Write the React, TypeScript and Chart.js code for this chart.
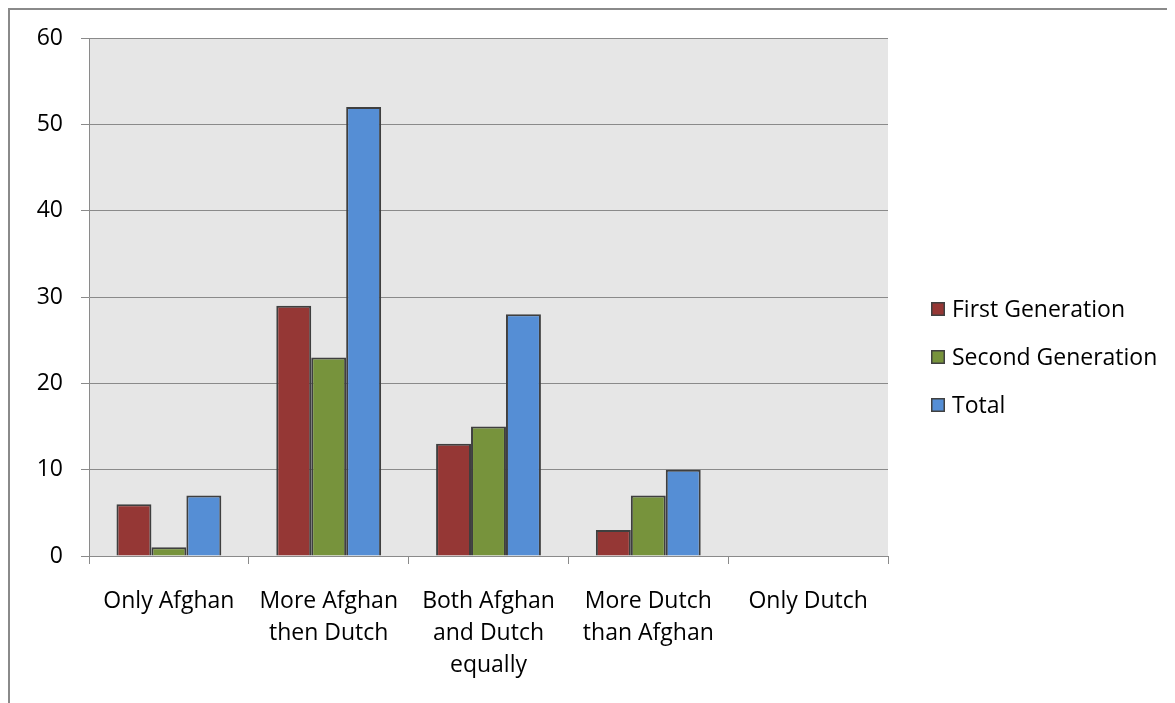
import React, { useEffect, useRef } from "react";
import { Chart, registerables } from "chart.js";

Chart.register(...registerables);

const categories: (string | string[])[] = [
  "Only Afghan",
  ["More Afghan", "then Dutch"],
  ["Both Afghan", "and Dutch", "equally"],
  ["More Dutch", "than Afghan"],
  "Only Dutch",
];
const firstGeneration = [6, 29, 13, 3, 0];
const secondGeneration = [1, 23, 15, 7, 0];
const total = [7, 52, 28, 10, 0];
const seriesNames = ["First Generation", "Second Generation", "Total"];
const seriesColors = ["#953735", "#77933c", "#558ed5"];

const FONT = "'Open Sans', 'Noto Sans', sans-serif";
const FONT_SIZE = 23;

const plotBg = {
  id: "plotBg",
  beforeDraw(chart: any) {
    const { ctx, chartArea } = chart;
    ctx.save();
    ctx.fillStyle = "#e6e6e6";
    ctx.fillRect(chartArea.left, chartArea.top, chartArea.right - chartArea.left, chartArea.bottom - chartArea.top);
    ctx.restore();
  },
};

const sideLegend = {
  id: "sideLegend",
  afterDraw(chart: any) {
    const { ctx } = chart;
    const x0 = 921;
    const yCenter = 347;
    const gap = 48;
    const ds = chart.data.datasets;
    ctx.save();
    ctx.font = `${FONT_SIZE}px ${FONT}`;
    ctx.textBaseline = "middle";
    ds.forEach((d: any, i: number) => {
      const y = yCenter + (i - (ds.length - 1) / 2) * gap;
      ctx.fillStyle = d.backgroundColor;
      ctx.fillRect(x0, y - 7, 14, 14);
      ctx.strokeStyle = "#404040";
      ctx.lineWidth = 1.5;
      ctx.strokeRect(x0 + 0.75, y - 6.25, 12.5, 12.5);
      ctx.fillStyle = "#000";
      ctx.fillText(d.label, x0 + 21, y + 1);
    });
    ctx.restore();
  },
};

export default function App() {
  const ref = useRef<HTMLCanvasElement>(null);
  useEffect(() => {
    document.documentElement.style.overflow = "hidden";
    const chart = new Chart(ref.current!, {
      type: "bar",
      data: {
        labels: categories,
        datasets: [firstGeneration, secondGeneration, total].map((data, i) => ({
          label: seriesNames[i],
          data,
          backgroundColor: seriesColors[i],
          borderColor: "#3f3f3f",
          borderWidth: 2,
          categoryPercentage: 0.656,
          barPercentage: 1,
        })),
      },
      options: {
        animation: false,
        responsive: false,
        layout: { padding: { top: 28, right: 287, left: 0, bottom: 0 } },
        plugins: { legend: { display: false }, tooltip: { enabled: false } },
        scales: {
          x: {
            grid: {
              drawOnChartArea: false,
              drawTicks: true,
              tickLength: 8,
              color: "#8a8a8a",
              offset: true,
            },
            border: { display: true, color: "#8a8a8a", width: 1 },
            ticks: {
              color: "#000",
              font: { family: FONT, size: FONT_SIZE, lineHeight: 32 / 23 },
              padding: 21,
              maxRotation: 0,
              autoSkip: false,
            },
            afterFit(scale: any) {
              scale.height = 147;
              scale.paddingLeft = 0;
              scale.paddingRight = 0;
            },
          },
          y: {
            min: 0,
            max: 60,
            grid: { color: "#8a8a8a", tickLength: 8, lineWidth: 1 },
            border: { display: true, color: "#8a8a8a", width: 1 },
            ticks: {
              stepSize: 10,
              color: "#000",
              font: { family: FONT, size: FONT_SIZE },
              padding: 18,
            },
            afterFit(scale: any) {
              scale.width = 79;
              scale.paddingTop = 0;
              scale.paddingBottom = 0;
            },
          },
        },
      },
      plugins: [plotBg, sideLegend],
    });
    return () => chart.destroy();
  }, []);
  return (
    <div
      style={{
        width: 1165,
        height: 693,
        borderLeft: "2px solid #8a8a8a",
        borderTop: "2px solid #8a8a8a",
        overflow: "hidden",
      }}
    >
      <canvas ref={ref} width={1165} height={693} style={{ display: "block" }} />
    </div>
  );
}
